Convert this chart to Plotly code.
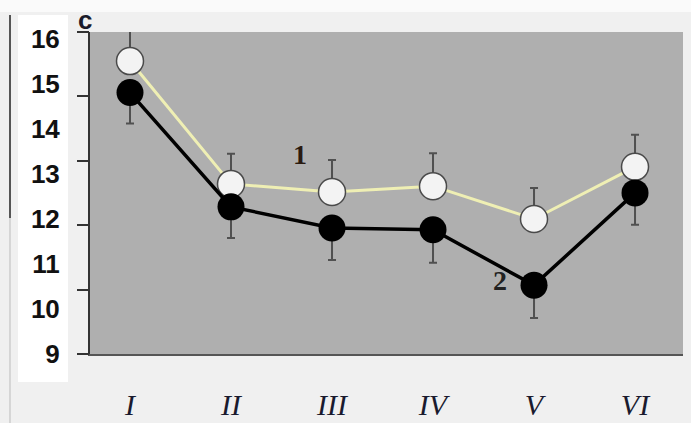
import plotly.graph_objects as go

categories = ["I", "II", "III", "IV", "V", "VI"]
series1 = [15.51, 12.78, 12.60, 12.73, 12.00, 13.16]   # open circles, curve "1"
series1_err = [0.71, 0.67, 0.71, 0.73, 0.69, 0.71]
series2 = [14.81, 12.27, 11.80, 11.76, 10.53, 12.58]   # filled circles, curve "2"
series2_err = [0.69, 0.69, 0.71, 0.73, 0.73, 0.71]
y_ticks = [9, 10, 11, 12, 13, 14, 15, 16]

W, H = 691, 423
L, R, T, B = 90, 683, 32, 354
PW, PH = R - L, B - T

def px(x):
    return (x - L) / PW

def py(y):
    return (B - y) / PH

fig = go.Figure()

fig.add_trace(go.Scatter(
    x=categories, y=series1, mode="lines+markers",
    line=dict(color="#efefb4", width=3),
    marker=dict(size=27, color="#f3f3f3", line=dict(color="#4a4a4a", width=1.5)),
    error_y=dict(type="data", symmetric=False, array=series1_err,
                 arrayminus=[0] * len(series1_err),
                 color="#505050", thickness=2, width=4),
    showlegend=False, hoverinfo="skip"))

fig.add_trace(go.Scatter(
    x=categories, y=series2, mode="lines+markers",
    line=dict(color="#000000", width=3.5),
    marker=dict(size=27, color="#000000"),
    error_y=dict(type="data", symmetric=False, array=[0] * len(series2_err),
                 arrayminus=series2_err,
                 color="#505050", thickness=2, width=4),
    showlegend=False, hoverinfo="skip"))

# helper (empty) trace so the secondary tick axis renders
fig.add_trace(go.Scatter(x=[], y=[], yaxis="y2", showlegend=False))

fig.update_layout(
    width=W, height=H,
    margin=dict(l=L, r=W - R, t=T, b=H - B, autoexpand=False),
    paper_bgcolor="#f0f0f0",
    plot_bgcolor="#afafaf",
    xaxis=dict(
        type="category", range=[-0.396, 5.475], automargin=False,
        showline=True, linecolor="#555555", linewidth=2,
        ticks="", showgrid=False, zeroline=False,
        tickfont=dict(family="Liberation Serif", size=30, color="#1a1a2e", style="italic"),
        ticklabelstandoff=23,
    ),
    yaxis=dict(
        range=[9, 9 + PH / 45.0], automargin=False,
        tickvals=y_ticks, ticktext=[str(v) for v in y_ticks],
        ticks="", showline=True, linecolor="#333333", linewidth=2,
        showgrid=False, zeroline=False,
        tickfont=dict(family="Liberation Sans", size=26, color="#111111", weight="bold"),
        ticklabelstandoff=23,
    ),
    yaxis2=dict(
        overlaying="y", side="left", range=[0, 5], automargin=False,
        tickvals=[0, 1, 2, 3, 4, 5], ticks="outside", ticklen=12,
        tickcolor="#333333", tickwidth=1.5,
        showticklabels=False, showgrid=False, showline=False, zeroline=False,
    ),
    shapes=[
        dict(type="rect", xref="paper", yref="paper", layer="below",
             x0=px(18), x1=px(68), y0=py(382), y1=py(15),
             fillcolor="#ffffff", line=dict(width=0)),
        dict(type="rect", xref="paper", yref="paper", layer="below",
             x0=px(0), x1=px(691), y0=py(12), y1=py(0),
             fillcolor="#fafafa", line=dict(width=0)),
        dict(type="line", xref="paper", yref="paper",
             x0=px(10), x1=px(10), y0=py(218), y1=py(15),
             line=dict(color="#555555", width=2)),
        dict(type="line", xref="paper", yref="paper",
             x0=px(10), x1=px(10), y0=py(423), y1=py(218),
             line=dict(color="#bbbbbb", width=1)),
    ],
    annotations=[
        dict(text="c", xref="paper", yref="paper", x=px(85), y=py(20),
             showarrow=False, xanchor="center", yanchor="middle",
             font=dict(family="Liberation Sans", size=26, color="#1a1a2a", weight="bold")),
        dict(text="1", xref="paper", yref="paper", x=px(300), y=py(154),
             showarrow=False, xanchor="center", yanchor="middle",
             font=dict(family="Liberation Serif", size=28, color="#2a1a10", weight="bold")),
        dict(text="2", xref="paper", yref="paper", x=px(500), y=py(280),
             showarrow=False, xanchor="center", yanchor="middle",
             font=dict(family="Liberation Serif", size=28, color="#222222", weight="bold")),
    ],
)

fig.write_html(
    "out.html",
    config={"displayModeBar": False},
    post_script="document.body.style.margin='0';document.body.style.background='#f0f0f0';",
)
